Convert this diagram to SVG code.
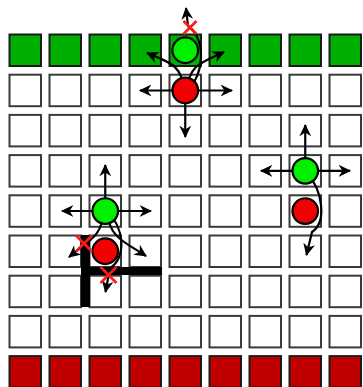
<svg xmlns="http://www.w3.org/2000/svg" width="363" height="387" viewBox="0 0 363 387">
<style>
.c{fill:#fff;stroke:#3a3a3a;stroke-width:2}
.g{fill:#00b000;stroke:#1a1a1a;stroke-width:2}
.r{fill:#c00000;stroke:#1a1a1a;stroke-width:2}
.a{fill:none;stroke:#000;stroke-width:2.2;marker-end:url(#ah)}
.pg{fill:#00f000;stroke:#000;stroke-width:2.2}
.pr{fill:#f00000;stroke:#000;stroke-width:2.2}
.x{stroke:#ff1a1a;stroke-width:2.6;fill:none}
.w{fill:#000}
</style>
<defs>
<marker id="ah" markerUnits="userSpaceOnUse" viewBox="0 0 12 12" refX="10.5" refY="6" markerWidth="13" markerHeight="13" orient="auto">
<path d="M0,0.5 L11.5,6 L0,11.5 L3.5,6 Z" fill="#000"/>
</marker>
<rect id="cw" class="c" width="31.5" height="31.5"/>
<rect id="cg" class="g" width="31.5" height="31.5"/>
<rect id="cr" class="r" width="31.5" height="31.5"/>
</defs>
<rect width="363" height="387" fill="#fff"/>
<g id="grid">
<g id="row0">
<use href="#cg" x="9.5" y="34.5"/><use href="#cg" x="49.5" y="34.5"/><use href="#cg" x="89.5" y="34.5"/><use href="#cg" x="129.5" y="34.5"/><use href="#cg" x="169.5" y="34.5"/><use href="#cg" x="209.5" y="34.5"/><use href="#cg" x="249.5" y="34.5"/><use href="#cg" x="289.5" y="34.5"/><use href="#cg" x="329.5" y="34.5"/>
</g>
<g id="row1">
<use href="#cw" x="9.5" y="74.7"/><use href="#cw" x="49.5" y="74.7"/><use href="#cw" x="89.5" y="74.7"/><use href="#cw" x="129.5" y="74.7"/><use href="#cw" x="169.5" y="74.7"/><use href="#cw" x="209.5" y="74.7"/><use href="#cw" x="249.5" y="74.7"/><use href="#cw" x="289.5" y="74.7"/><use href="#cw" x="329.5" y="74.7"/>
</g>
<g id="row2">
<use href="#cw" x="9.5" y="114.9"/><use href="#cw" x="49.5" y="114.9"/><use href="#cw" x="89.5" y="114.9"/><use href="#cw" x="129.5" y="114.9"/><use href="#cw" x="169.5" y="114.9"/><use href="#cw" x="209.5" y="114.9"/><use href="#cw" x="249.5" y="114.9"/><use href="#cw" x="289.5" y="114.9"/><use href="#cw" x="329.5" y="114.9"/>
</g>
<g id="row3">
<use href="#cw" x="9.5" y="155.1"/><use href="#cw" x="49.5" y="155.1"/><use href="#cw" x="89.5" y="155.1"/><use href="#cw" x="129.5" y="155.1"/><use href="#cw" x="169.5" y="155.1"/><use href="#cw" x="209.5" y="155.1"/><use href="#cw" x="249.5" y="155.1"/><use href="#cw" x="289.5" y="155.1"/><use href="#cw" x="329.5" y="155.1"/>
</g>
<g id="row4">
<use href="#cw" x="9.5" y="195.3"/><use href="#cw" x="49.5" y="195.3"/><use href="#cw" x="89.5" y="195.3"/><use href="#cw" x="129.5" y="195.3"/><use href="#cw" x="169.5" y="195.3"/><use href="#cw" x="209.5" y="195.3"/><use href="#cw" x="249.5" y="195.3"/><use href="#cw" x="289.5" y="195.3"/><use href="#cw" x="329.5" y="195.3"/>
</g>
<g id="row5">
<use href="#cw" x="9.5" y="235.5"/><use href="#cw" x="49.5" y="235.5"/><use href="#cw" x="89.5" y="235.5"/><use href="#cw" x="129.5" y="235.5"/><use href="#cw" x="169.5" y="235.5"/><use href="#cw" x="209.5" y="235.5"/><use href="#cw" x="249.5" y="235.5"/><use href="#cw" x="289.5" y="235.5"/><use href="#cw" x="329.5" y="235.5"/>
</g>
<g id="row6">
<use href="#cw" x="9.5" y="275.7"/><use href="#cw" x="49.5" y="275.7"/><use href="#cw" x="89.5" y="275.7"/><use href="#cw" x="129.5" y="275.7"/><use href="#cw" x="169.5" y="275.7"/><use href="#cw" x="209.5" y="275.7"/><use href="#cw" x="249.5" y="275.7"/><use href="#cw" x="289.5" y="275.7"/><use href="#cw" x="329.5" y="275.7"/>
</g>
<g id="row7">
<use href="#cw" x="9.5" y="315.9"/><use href="#cw" x="49.5" y="315.9"/><use href="#cw" x="89.5" y="315.9"/><use href="#cw" x="129.5" y="315.9"/><use href="#cw" x="169.5" y="315.9"/><use href="#cw" x="209.5" y="315.9"/><use href="#cw" x="249.5" y="315.9"/><use href="#cw" x="289.5" y="315.9"/><use href="#cw" x="329.5" y="315.9"/>
</g>
<g id="row8">
<use href="#cr" x="9.5" y="356.1"/><use href="#cr" x="49.5" y="356.1"/><use href="#cr" x="89.5" y="356.1"/><use href="#cr" x="129.5" y="356.1"/><use href="#cr" x="169.5" y="356.1"/><use href="#cr" x="209.5" y="356.1"/><use href="#cr" x="249.5" y="356.1"/><use href="#cr" x="289.5" y="356.1"/><use href="#cr" x="329.5" y="356.1"/>
</g>
</g>
<g id="wall">
<rect class="w" x="81" y="235" width="9" height="72"/>
<rect class="w" x="81" y="267" width="81" height="8"/>
</g>
<g id="connectors">
<path class="a" d="M185.25,90.5 H140"/>
<path class="a" d="M185.25,90.5 H232"/>
<path class="a" d="M185.25,90.5 V137"/>
<path class="a" d="M184,90 C182,64 168,62 147,53"/>
<path class="a" d="M187,90 C189,64 203,62 224,52"/>
<path class="a" d="M187,90 C204,76 207,40 188,26 L186,8"/>
<path class="a" d="M305.25,170.85 V125"/>
<path class="a" d="M305.25,170.85 H261"/>
<path class="a" d="M305.25,170.85 H350"/>
<path class="a" d="M306,172 C323,190 327,222 312,232 L306.5,255"/>
<path class="a" d="M105.25,211 V165"/>
<path class="a" d="M105.25,211 H62"/>
<path class="a" d="M105.25,211 H151"/>
<path class="a" d="M104,211 C102,236 90,240 69,257"/>
<path class="a" d="M107,211 C109,238 125,242 146,256"/>
<path class="a" d="M107,212 C124,226 127,258 110,268 L105.5,292"/>
</g>
<g id="top-red"><circle class="pr" cx="185.25" cy="90.45" r="12.8"/></g>
<g id="top-green"><circle class="pg" cx="185.25" cy="50.25" r="12.8"/></g>
<g id="right-green"><circle class="pg" cx="305.25" cy="170.85" r="12.8"/></g>
<g id="right-red"><circle class="pr" cx="305.25" cy="211.05" r="12.8"/></g>
<g id="left-green"><circle class="pg" cx="105.25" cy="211.05" r="12.8"/></g>
<g id="left-red"><circle class="pr" cx="105.25" cy="251.25" r="12.8"/></g>
<g id="blocked">
<path class="x" d="M183.5,21 L196.5,34 M196.5,21 L183.5,34"/>
<path class="x" d="M76,235.5 L92,251.5 M92,235.5 L76,251.5"/>
<path class="x" d="M100.5,267 L116.5,283 M116.5,267 L100.5,283"/>
</g>
</svg>
